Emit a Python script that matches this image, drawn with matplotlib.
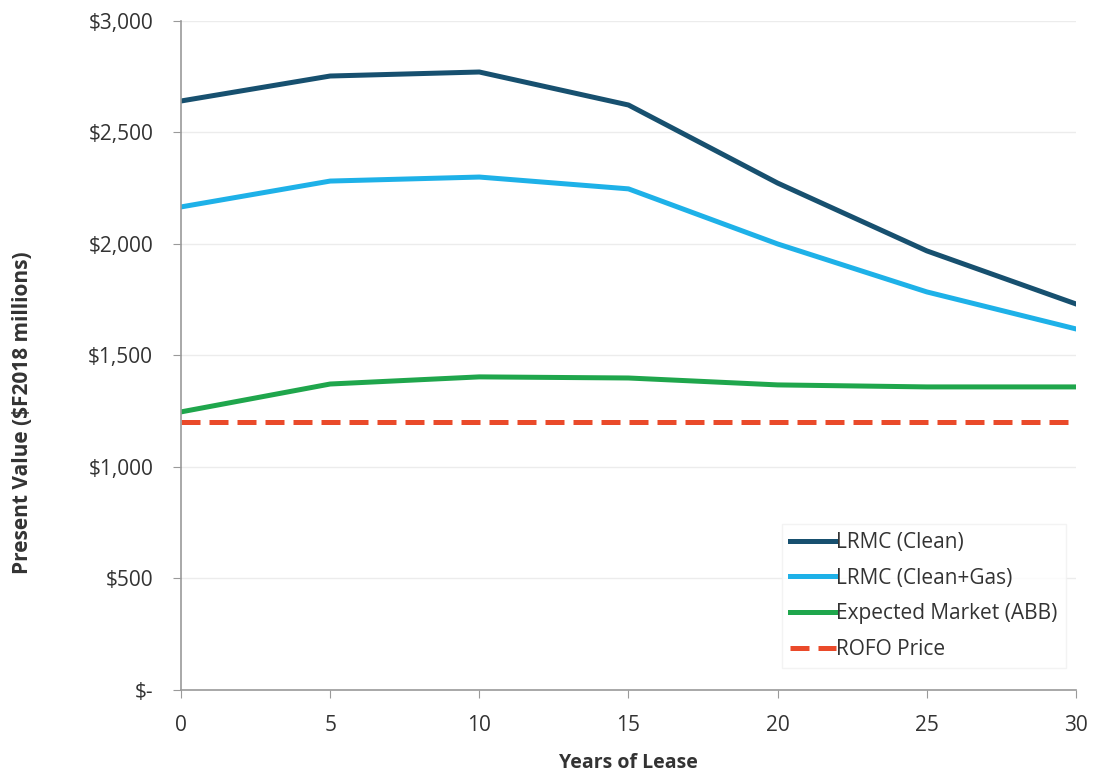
import matplotlib.pyplot as plt
from matplotlib.ticker import FuncFormatter

years = [0, 5, 10, 15, 20, 25, 30]
lrmc_clean = [2641, 2753, 2771, 2623, 2273, 1969, 1731]
lrmc_clean_gas = [2166, 2282, 2300, 2247, 2000, 1785, 1619]
expected_market = [1247, 1372, 1404, 1399, 1368, 1359, 1359]
rofo_price = [1200, 1200, 1200, 1200, 1200, 1200, 1200]

plt.rcParams['font.family'] = ['Open Sans', 'DejaVu Sans']

fig = plt.figure(figsize=(10.95, 7.78), dpi=100)
ax = fig.add_axes([0.1653, 0.1131, 0.8173, 0.86])

ax.plot(years, lrmc_clean, color='#17506f', lw=3.6, label='LRMC (Clean)')
ax.plot(years, lrmc_clean_gas, color='#1eb1e8', lw=3.6, label='LRMC (Clean+Gas)')
ax.plot(years, expected_market, color='#1fa64c', lw=3.6, label='Expected Market (ABB)')
ax.plot(years, rofo_price, color='#ea4a2a', lw=3.6, ls=(0, (3.8, 1.8)), label='ROFO Price')

ax.set_xlim(0, 30)
ax.set_ylim(0, 3000)
ax.set_xticks(range(0, 31, 5))
ax.set_yticks(range(0, 3001, 500))


def money(v, pos):
    return '$-' if v == 0 else f'${v:,.0f}'


ax.yaxis.set_major_formatter(FuncFormatter(money))
ax.grid(axis='y', color='#ececec', lw=1)
ax.set_axisbelow(True)
for s in ['top', 'right']:
    ax.spines[s].set_visible(False)
for s in ['left', 'bottom']:
    ax.spines[s].set_color('#9a9a9a')
    ax.spines[s].set_linewidth(1.2)
ax.tick_params(axis='both', direction='out', length=6, color='#9a9a9a',
               labelsize=15, labelcolor='#333333')
ax.tick_params(axis='x', pad=12)
ax.tick_params(axis='y', pad=14)

ax.set_xlabel('Years of Lease', fontsize=14, fontweight='bold', color='#333333', labelpad=12)
ax.set_ylabel('Present Value ($F2018 millions)', fontsize=15, fontweight='bold',
              color='#333333')
ax.yaxis.set_label_coords(-0.165, 0.414)

leg = ax.legend(loc='lower right', bbox_to_anchor=(1.0, 0.017), fontsize=15,
                handlelength=2.2, handletextpad=0.0, labelspacing=0.7,
                frameon=True, edgecolor='#f0f0f0', fancybox=False)
for t in leg.get_texts():
    t.set_color('#333333')

fig.savefig('out.png', dpi=100)
